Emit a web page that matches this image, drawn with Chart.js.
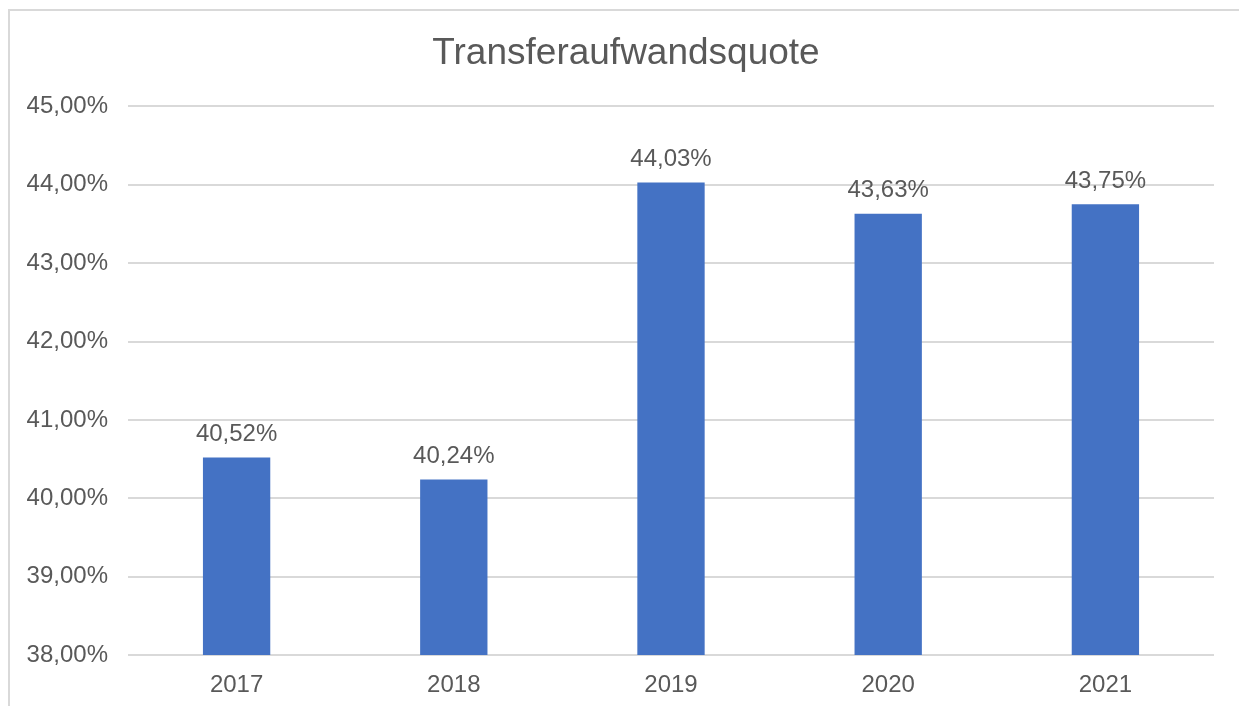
<!DOCTYPE html>
<html>
<head>
<meta charset="utf-8">
<script src="https://cdn.jsdelivr.net/npm/chart.js@4"></script>
<style>
  html, body { margin: 0; padding: 0; background: #fff; }
  #wrap { position: relative; width: 1239px; height: 706px; overflow: hidden; }
  #chart { position: absolute; left: 8px; top: 9px; }
  #frame {
    position: absolute; left: 8px; top: 9px; width: 1300px; height: 800px;
    border-left: 2px solid #d9d9d9; border-top: 2px solid #d9d9d9;
    pointer-events: none;
  }
</style>
</head>
<body>
<div id="wrap">
  <canvas id="chart" width="1236" height="697"></canvas>
  <div id="frame"></div>
</div>
<script>
const years = ['2017', '2018', '2019', '2020', '2021']
const quote = [40.52, 40.24, 44.03, 43.63, 43.75]
const yMin = 38
const yMax = 45

const fmt = v => v.toFixed(2).replace('.', ',') + '%'
const textColor = '#595959'
const fontFamily = '"Liberation Sans", Arial, sans-serif'

// Werte über die Säulen schreiben
const valueLabels = {
  id: 'valueLabels',
  afterDatasetsDraw(chart) {
    const ctx = chart.ctx
    const meta = chart.getDatasetMeta(0)
    ctx.save()
    ctx.font = '24px ' + fontFamily
    ctx.fillStyle = textColor
    ctx.textAlign = 'center'
    ctx.textBaseline = 'middle'
    meta.data.forEach((bar, i) => {
      ctx.fillText(fmt(quote[i]), bar.x, bar.y - 23)
    })
    ctx.restore()
  }
}

// Titel über die ganze Breite zentrieren (ohne rechtes Padding)
const centerTitle = {
  id: 'centerTitle',
  afterLayout(chart) {
    const t = chart.titleBlock
    if (!t) return
    t.left = 0
    t.right = chart.width
    t.width = chart.width
  }
}

const ctx = document.getElementById('chart').getContext('2d')
const myChart = new Chart(ctx, {
  type: 'bar',
  data: {
    labels: years,
    datasets: [{
      data: quote,
      backgroundColor: '#4472c4',
      borderWidth: 0,
      barPercentage: 0.31,
      categoryPercentage: 1
    }]
  },
  options: {
    responsive: false,
    animation: false,
    layout: { padding: { left: 0, right: 30, top: 0, bottom: 0 } },
    plugins: {
      legend: { display: false },
      tooltip: { enabled: false },
      title: {
        display: true,
        text: 'Transferaufwandsquote',
        color: textColor,
        font: { family: fontFamily, size: 37, weight: 'normal' },
        padding: { top: 23, bottom: 30 }
      }
    },
    scales: {
      x: {
        grid: { display: false },
        border: { display: false },
        ticks: {
          color: textColor,
          padding: 8,
          font: { family: fontFamily, size: 24 }
        },
        afterFit: scale => { scale.height = 51 }
      },
      y: {
        min: yMin,
        max: yMax,
        grid: { color: '#d9d9d9', lineWidth: 2, drawTicks: false },
        border: { display: false },
        ticks: {
          stepSize: 1,
          color: textColor,
          padding: 20,
          font: { family: fontFamily, size: 24 },
          callback: v => fmt(v)
        },
        afterFit: scale => { scale.width = 120 }
      }
    }
  },
  plugins: [valueLabels, centerTitle]
})
</script>
</body>
</html>
